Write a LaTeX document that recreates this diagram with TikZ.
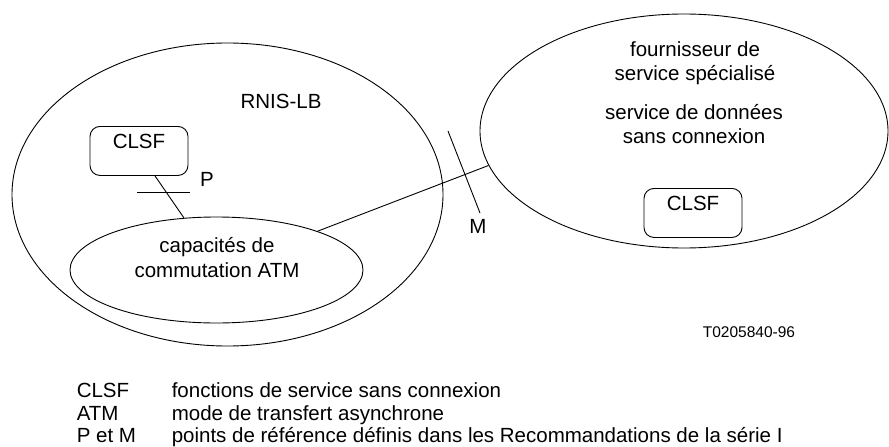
\documentclass[tikz,border=0pt]{standalone}
\usepackage{fontspec}
\setmainfont{Liberation Sans}
\usetikzlibrary{shapes.geometric}

\begin{document}
\begin{tikzpicture}[x=1pt, y=-1pt, line width=0.9pt,
    every node/.style={font=\fontsize{20.5}{24}\selectfont},
    netzone/.style={draw, ellipse, inner sep=0pt},
    clsfbox/.style={draw, rounded corners=10pt, minimum width=98pt,
      text height=18pt, text depth=23pt, inner ysep=4pt, anchor=north},
    txt/.style={anchor=base},
    legend/.style={anchor=base west}]
    \useasboundingbox (0,0) rectangle (889,447);

    % RNIS-LB network with its ATM core
    \node[netzone, minimum width=431pt, minimum height=303pt] (rnis) at (227.5,194.5) {};
    \node[netzone, minimum width=293pt, minimum height=106pt] (commut) at (216.5,270) {};
    \node[txt] (rnislabel) at (281,108) {RNIS-LB};
    \node[txt] (commutA) at (217,252) {capacités de};
    \node[txt] (commutB) at (217,277) {commutation ATM};
    \node[clsfbox] (clsfL) at (139,126) {CLSF};

    % specialised service provider
    \node[netzone, minimum width=408pt, minimum height=234pt] (fourn) at (684,131) {};
    \node[txt] (fournA) at (695,56) {fournisseur de};
    \node[txt] (fournB) at (695,80) {service spécialisé};
    \node[txt] (fournC) at (694,119) {service de données};
    \node[txt] (fournD) at (694,143) {sans connexion};
    \node[clsfbox] (clsfR) at (693,188) {CLSF};

    % links and reference points
    \draw ([xshift=16pt]clsfL.south) -- (commut.122.8);
    \draw (commut.21.7) -- (fourn.190.1);
    \draw (137,192) -- (190,192);
    \node[txt] (refP) at (207,186) {P};
    \draw (448,131) -- (480,213);
    \node[txt] (refM) at (478,233) {M};

    \node[txt, font=\fontsize{15.5}{18}\selectfont] (ref) at (749,337) {T0205840-96};

    % legend
    \node[legend] (keyA) at (73,397) {CLSF};
    \node[legend] (descA) at (168,397) {fonctions de service sans connexion};
    \node[legend] (keyB) at (73,420) {ATM};
    \node[legend] (descB) at (168,420) {mode de transfert asynchrone};
    \node[legend] (keyC) at (73,442.5) {P et M};
    \node[legend] (descC) at (168,442.5) {points de référence définis dans les Recommandations de la série I};

    \end{tikzpicture}
\end{document}
